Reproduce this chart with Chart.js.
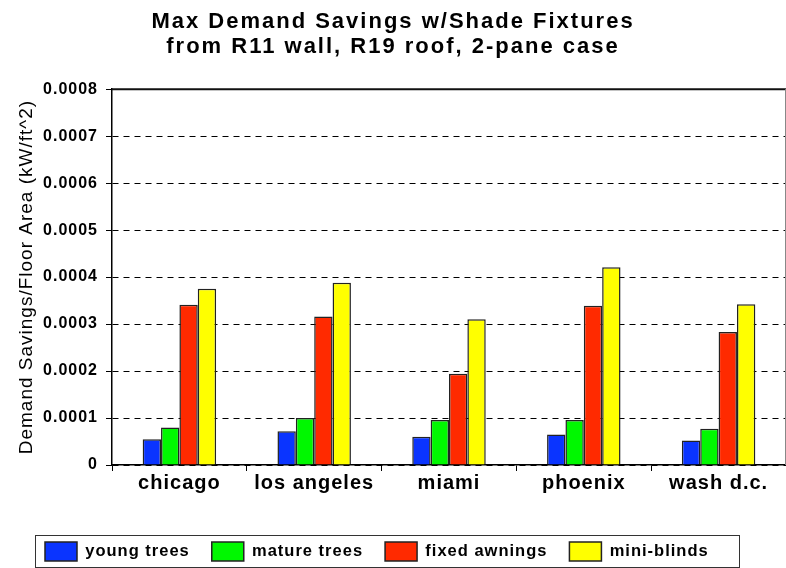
<!DOCTYPE html>
<html>
<head>
<meta charset="utf-8">
<script src="https://cdn.jsdelivr.net/npm/chart.js@4.4.1/dist/chart.umd.min.js"></script>
<style>
    body { margin: 0; background: #fff; }
    #wrap { width: 786px; height: 568px; }
</style>
</head>
<body>
<div id="wrap"><canvas id="chart" width="786" height="568"></canvas></div>
<script>
// Chart data
const cities = ['chicago', 'los angeles', 'miami', 'phoenix', 'wash d.c.'];
const youngTrees = [0.000055, 0.000072, 0.00006, 0.000065, 0.000052];
const matureTrees = [0.00008, 0.0001, 0.000096, 0.000096, 0.000077];
const fixedAwnings = [0.000341, 0.000316, 0.000194, 0.000339, 0.000283];
const miniBlinds = [0.000375, 0.000388, 0.00031, 0.000421, 0.000342];
const yTicks = [0, 0.0001, 0.0002, 0.0003, 0.0004, 0.0005, 0.0006, 0.0007, 0.0008];

const titleLines = ['Max Demand Savings w/Shade Fixtures', 'from R11 wall, R19 roof, 2-pane case'];
const yTitle = 'Demand Savings/Floor Area (kW/ft^2)';

const FONT = "'Liberation Sans', Arial, sans-serif";
const EDGE = '#222';
const LEGEND_PAD = 22;

// wider text spacing, like the old screen rendering
const spacingPlugin = {
    id: 'spacing',
    beforeUpdate(chart) { chart.ctx.letterSpacing = '1px'; },
    beforeDraw(chart) { chart.ctx.letterSpacing = '1px'; },
    afterLayout(chart) {
        // legend sits a bit left of centre in the original
        chart.legend.left = 45 - LEGEND_PAD;
    }
};

// box around the plot and the legend
const framePlugin = {
    id: 'frame',
    afterDraw(chart) {
        const ctx = chart.ctx;
        const a = chart.chartArea;
        ctx.save();
        ctx.strokeStyle = '#111';
        ctx.lineWidth = 2;
        ctx.beginPath();
        ctx.moveTo(a.left, a.top);
        ctx.lineTo(a.right, a.top);
        ctx.stroke();
        ctx.strokeStyle = '#888';
        ctx.lineWidth = 1;
        ctx.beginPath();
        ctx.moveTo(a.right - 0.5, a.top);
        ctx.lineTo(a.right - 0.5, a.bottom);
        ctx.stroke();

        const lg = chart.legend;
        const boxes = lg.legendHitBoxes;
        if (boxes && boxes.length) {
            const x0 = lg.left + LEGEND_PAD;
            const y0 = boxes[0].top;
            ctx.strokeStyle = '#333';
            ctx.strokeRect(x0 - 9.5, y0 - 6.5, 704, chart.height - y0 + 6);
        }
        ctx.restore();
    }
};

const ctx = document.getElementById('chart').getContext('2d');
const chart = new Chart(ctx, {
    type: 'bar',
    data: {
        labels: cities,
        datasets: [
            { label: 'young trees', data: youngTrees, backgroundColor: '#0a34ff' },
            { label: 'mature trees', data: matureTrees, backgroundColor: '#00f800' },
            { label: 'fixed awnings', data: fixedAwnings, backgroundColor: '#ff2a00' },
            { label: 'mini-blinds', data: miniBlinds, backgroundColor: '#ffff00' }
        ].map(ds => Object.assign(ds, {
            borderColor: EDGE,
            borderWidth: 1.5,
            categoryPercentage: 0.545,
            barPercentage: 1.0
        }))
    },
    options: {
        responsive: false,
        animation: false,
        layout: { padding: { top: 0, left: 0, right: 0, bottom: -3 } },
        plugins: {
            title: {
                display: true,
                text: titleLines,
                color: '#000',
                font: { family: FONT, size: 22, weight: 'bold', lineHeight: 1.14 },
                padding: { top: 9, bottom: 30 }
            },
            legend: {
                position: 'bottom',
                align: 'start',
                labels: {
                    color: '#000',
                    boxWidth: 32,
                    boxHeight: 19,
                    padding: LEGEND_PAD,
                    font: { family: FONT, size: 16.5, weight: 'bold' }
                }
            },
            tooltip: { enabled: false }
        },
        scales: {
            x: {
                offset: true,
                grid: { offset: true, drawOnChartArea: false, tickLength: 6, color: '#000' },
                border: { color: '#000', width: 1.5 },
                ticks: { color: '#000', padding: 0, font: { family: FONT, size: 20, weight: 'bold' } },
                afterFit(scale) { scale.height = 55; }
            },
            y: {
                min: 0,
                max: 0.0008,
                afterBuildTicks(scale) { scale.ticks = yTicks.map(v => ({ value: v })); },
                ticks: {
                    color: '#000',
                    padding: 8,
                    font: { family: FONT, size: 16, weight: 'bold' },
                    callback: v => v === 0 ? '0' : v.toFixed(4)
                },
                grid: { color: '#000', tickLength: 6, lineWidth: 1 },
                border: { color: '#000', width: 1.5, dash: [6, 5] },
                title: {
                    display: true,
                    text: yTitle,
                    color: '#000',
                    font: { family: FONT, size: 19 },
                    padding: { top: 15, bottom: 0 }
                },
                afterFit(scale) { scale.width = 112; }
            }
        }
    },
    plugins: [spacingPlugin, framePlugin]
});

// the title in the original is spaced out more than the rest of the text
const titleBox = chart.titleBlock;
const drawTitle = titleBox.draw.bind(titleBox);
titleBox.draw = function() {
    chart.ctx.letterSpacing = '2px';
    drawTitle();
    chart.ctx.letterSpacing = '1px';
};
chart.draw();
</script>
</body>
</html>
